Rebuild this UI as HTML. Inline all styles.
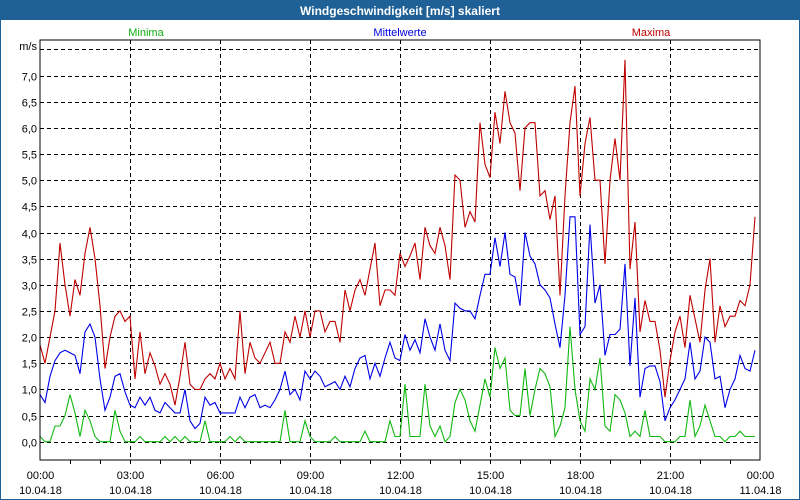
<!DOCTYPE html>
<html><head><meta charset="utf-8"><style>
html,body{margin:0;padding:0;background:#fff}
svg{display:block;font-family:"Liberation Sans",sans-serif}
</style></head><body>
<svg id="chart" width="800" height="500" viewBox="0 0 800 500">
<rect x="0" y="0" width="800" height="500" fill="#fff" stroke="#1f6096" stroke-width="2"/>
<rect x="0" y="0" width="800" height="20" fill="#1f6096"/>
<text x="400" y="15" text-anchor="middle" fill="#fff" font-weight="bold" font-size="12">Windgeschwindigkeit [m/s] skaliert</text>
<text x="146" y="36" text-anchor="middle" fill="#10b010" font-size="11">Minima</text>
<text x="400" y="36" text-anchor="middle" fill="#0000e0" font-size="11">Mittelwerte</text>
<text x="651" y="36" text-anchor="middle" fill="#c00000" font-size="11">Maxima</text>
<text x="37" y="50" text-anchor="end" font-size="11" fill="#000">m/s</text>
<g id="grid"></g><g id="series"></g><g id="axes"></g>
<rect x="40" y="40" width="720" height="420" fill="none" stroke="#000" stroke-width="1"/>
</svg>
<script>
const yTicks=[0,0.5,1,1.5,2,2.5,3,3.5,4,4.5,5,5.5,6,6.5,7,7.5];
const yLabels=["0,0","0,5","1,0","1,5","2,0","2,5","3,0","3,5","4,0","4,5","5,0","5,5","6,0","6,5","7,0",""];
const xTickHours=[0,3,6,9,12,15,18,21,24];
const xTimeLabels=["00:00","03:00","06:00","09:00","12:00","15:00","18:00","21:00","00:00"];
const xDateLabels=["10.04.18","10.04.18","10.04.18","10.04.18","10.04.18","10.04.18","10.04.18","10.04.18","11.04.18"];
const maxima=[1.85,1.5,2.0,2.5,3.8,3.0,2.4,3.1,2.8,3.6,4.1,3.5,2.6,1.4,2.0,2.4,2.5,2.3,2.4,1.2,2.1,1.3,1.7,1.45,1.1,1.3,1.1,0.7,1.25,1.9,1.1,1.0,1.0,1.2,1.3,1.2,1.5,1.2,1.4,1.2,2.5,1.3,1.9,1.6,1.5,1.7,1.9,1.5,1.5,2.1,1.9,2.4,2.0,2.5,2.0,2.5,2.5,2.1,2.3,2.3,1.9,2.9,2.5,2.9,3.1,2.8,3.3,3.8,2.6,2.9,2.9,2.8,
3.6,3.35,3.55,3.8,3.1,4.1,3.75,3.6,4.1,3.75,3.1,5.1,5.0,4.1,4.4,4.2,6.1,5.3,5.05,6.3,5.7,6.7,6.1,5.9,4.8,6.0,6.1,6.1,4.7,4.8,4.25,4.7,2.8,4.7,6.1,6.8,4.7,5.7,6.2,5.0,5.0,3.4,5.0,5.8,5.0,7.3,3.3,4.2,2.1,2.7,2.3,2.3,1.75,0.85,1.55,2.1,2.4,1.8,2.8,2.35,1.9,2.9,3.5,1.9,2.6,2.2,2.4,2.4,2.7,2.6,3.0,4.3];
const mittelwerte=[0.9,0.75,1.25,1.55,1.7,1.75,1.7,1.65,1.3,2.1,2.25,2.0,1.2,0.6,0.85,1.25,1.3,0.95,0.7,0.65,0.85,0.7,0.85,0.6,0.55,0.75,0.65,0.55,0.55,1.0,0.4,0.25,0.35,0.85,0.7,0.75,0.55,0.55,0.55,0.55,0.85,0.65,0.85,0.9,0.65,0.7,0.65,0.8,1.0,1.35,0.9,1.0,0.8,1.35,1.2,1.35,1.25,1.05,1.1,1.15,1.0,1.25,1.05,1.4,1.6,1.65,1.2,1.5,1.25,1.6,1.9,1.6,1.55,
2.05,1.75,1.95,1.7,2.35,2.0,1.75,2.25,1.75,1.55,2.65,2.55,2.5,2.5,2.35,2.8,3.2,3.2,3.9,3.35,4.0,3.2,3.15,2.6,4.0,3.55,3.4,3.0,2.9,2.75,2.25,1.8,2.8,4.3,4.3,2.05,2.2,4.15,2.65,3.0,1.65,2.05,2.05,2.15,3.4,1.45,2.75,0.85,1.4,1.45,1.45,1.15,0.4,0.65,0.8,1.0,1.2,1.9,1.2,1.35,2.0,1.9,1.2,1.25,0.65,1.0,1.2,1.65,1.4,1.35,1.75];
const minima=[0.1,0,0,0.3,0.3,0.5,0.9,0.55,0.1,0.6,0.4,0.1,0,0,0,0.6,0.2,0,0,0,0.1,0,0,0,0,0.1,0,0.1,0,0.1,0,0,0,0.4,0,0,0,0,0.1,0,0.1,0,0,0,0,0,0,0,0,0.6,0,0,0,0.4,0.1,0,0,0,0,0.1,0,0,0,0,0,0.2,0,0,0,0,0.4,0.1,0.1,
1.1,0.1,0.1,0.1,1.1,0.3,0.1,0.3,0,0.1,0.75,1.0,0.8,0.4,0.2,0.7,1.2,0.85,1.8,1.4,1.6,0.6,0.5,0.5,1.4,0.5,1.0,1.4,1.3,1.05,0.1,0.3,0.65,2.2,1.0,0.4,0.2,1.2,1.0,1.6,0.3,0.2,0.9,0.8,0.55,0.1,0.2,0.1,0.6,0.1,0.1,0.1,0,0,0,0.1,0.1,0.8,0.1,0.3,0.7,0.4,0.1,0.1,0,0.1,0.1,0.2,0.1,0.1,0.1];

const NS='http://www.w3.org/2000/svg';
const X0=40,X1=760,Y0=441.7,PPU=52.3;
function yScale(v){return Y0-v*PPU;}
function xHour(h){return X0+(X1-X0)*h/24;}
function xIdx(i){return X0+i*5;}
function mk(tag,attrs,parent){const e=document.createElementNS(NS,tag);for(const k in attrs)e.setAttribute(k,attrs[k]);parent.appendChild(e);return e;}
const grid=document.getElementById('grid'),axes=document.getElementById('axes'),series=document.getElementById('series');
yTicks.forEach((v,i)=>{
  const y=Math.round(yScale(v))+0.5;
  const l=mk('line',{x1:X0,x2:X1,y1:y,y2:y,stroke:'#000','stroke-dasharray':'4,3','stroke-width':1},grid);
  
  
  if(yLabels[i]){
    const t=mk('text',{x:37,y:y+4,'text-anchor':'end','font-size':11,fill:'#000'},axes);
    t.textContent=yLabels[i];
    
    
  }
});
xTickHours.forEach((h,i)=>{
  const x=Math.round(xHour(h))+0.5;
  if(h>0&&h<24){
    const l=mk('line',{x1:x,x2:x,y1:40,y2:460,stroke:'#000','stroke-dasharray':'4,3','stroke-width':1},grid);
    
    
  }
  const t1=mk('text',{x:x,y:479,'text-anchor':'middle','font-size':11,fill:'#000'},axes);
  t1.textContent=xTimeLabels[i];
  
  
  const t2=mk('text',{x:x,y:494,'text-anchor':'middle','font-size':11,fill:'#000'},axes);
  t2.textContent=xDateLabels[i];
  
  
});
for(let h=1;h<24;h++){
  const x=Math.round(xHour(h))+0.5;
  const l=mk('line',{x1:x,x2:x,y1:460,y2:464,stroke:'#000'},axes);
  
  
}
function draw(arr,color,name){
  const pts=arr.map((v,i)=>xIdx(i).toFixed(1)+','+yScale(v).toFixed(1)).join(' ');
  const p=mk('polyline',{points:pts,fill:'none',stroke:color,'stroke-width':1.1},series);
  
  
}
draw(minima,'#10b810','minima-line');
draw(mittelwerte,'#0000e8','mittelwerte-line');
draw(maxima,'#c00000','maxima-line');
</script>
</body></html>
